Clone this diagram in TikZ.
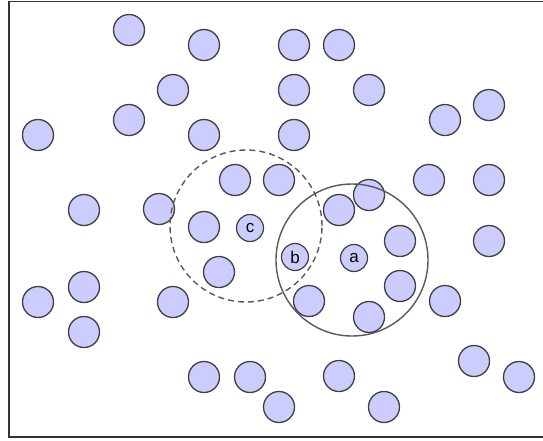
\documentclass[tikz,border=0pt]{standalone}
\usepackage{fontspec}
\setmainfont{Liberation Sans}
\begin{document}
\begin{tikzpicture}[x=1pt,y=-1pt,
  dot/.style={circle,draw=black!75,line width=1.3pt,fill=lavb,minimum size=31pt,inner sep=0pt},
  ldot/.style={circle,draw=black!75,line width=1.2pt,fill=lavb,minimum size=27pt,inner sep=0pt,font=\fontsize{17}{17}\selectfont},
  bigc/.style={circle,draw=black!65,line width=1.4pt,minimum size=152pt,inner sep=0pt},
  frame/.style={draw=black!80,line width=1.6pt}]
\definecolor{lavb}{RGB}{204,204,255}
\useasboundingbox (0,0) rectangle (543,440);
\fill[white] (0,0) rectangle (543,440);
\draw[frame] (545,1.5) -- (9,1.5) -- (9,437) -- (545,437);
\foreach \i/\x/\y in {1/129/30,2/204/45,3/294/45,4/339/45,5/173/90,6/294/90,7/369/90,8/489/105,
  9/129/120,10/445/120,11/38/135,12/204/135,13/294/135,14/235/180,15/279/180,16/429/180,
  17/489/180,18/369/195,19/84/210,20/159/209,21/339/210,22/204/227,23/400/241,24/489/241,
  25/219/272,26/84/287,27/400/286,28/38/302,29/173/302,30/309/301,31/445/301,32/369/317,
  33/84/332,34/474/361,35/204/377,36/250/377,37/339/376,38/519/377,39/279/407,40/384/407}
  \node[dot] (n\i) at (\x,\y) {};
\node[ldot] (c) at (250,228) {c};
\node[ldot] (b) at (295,257) {b};
\node[ldot] (a) at (354,258) {a};
\node[bigc,dashed,dash pattern=on 6pt off 4pt] (cc) at (246,226) {};
\node[bigc] (ac) at (352,260) {};
\end{tikzpicture}
\end{document}
